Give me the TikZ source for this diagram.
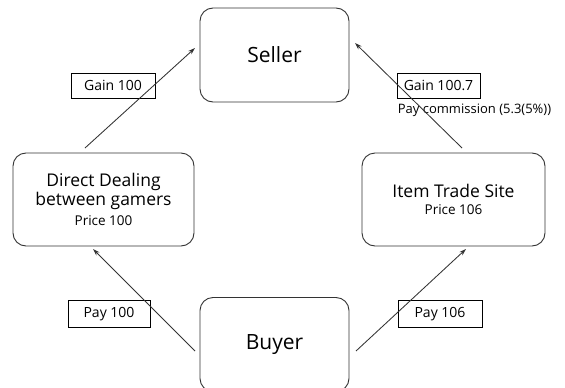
\documentclass[tikz,border=0pt]{standalone}
\usepackage{fontspec}
\setmainfont{Open Sans}
\usetikzlibrary{arrows.meta}
\begin{document}
\begin{tikzpicture}[x=1pt,y=-1pt,
  bigbox/.style={draw=black!80, line width=0.9pt, rounded corners=13pt, minimum height=94pt, align=center, inner sep=0pt},
  lbl/.style={draw=black, line width=0.8pt, rectangle, inner sep=0pt, minimum height=25pt, font=\fontsize{14}{16}\selectfont},
  flow/.style={-{Stealth[length=7pt,width=4.5pt]}, draw=black!80, line width=0.85pt},
  bigtxt/.style={font=\fontsize{21}{24}\selectfont}]
\useasboundingbox[fill=white] (0,0) rectangle (565,388);
% main boxes
\node[bigbox, bigtxt, minimum width=149pt] (seller) at (274.5,55) {Seller};
\node[bigbox, minimum width=181pt, minimum height=93pt] (dd) at (103.5,199.5)
  {\fontsize{17.5}{18}\selectfont Direct Dealing\\ \fontsize{17.5}{18}\selectfont between gamers\\[5pt] \fontsize{13.5}{15}\selectfont Price 100};
\node[bigbox, minimum width=183pt, minimum height=93pt] (its) at (453.5,199.5)
  {\fontsize{17.5}{18}\selectfont Item Trade Site\\[5pt] \fontsize{13.5}{15}\selectfont Price 106};
\node[bigbox, bigtxt, minimum width=149pt] (buyer) at (274.5,344.5) {Buyer};
% labels
\node[lbl, minimum width=84pt] (g1) at (113,85.5) {Gain 100};
\node[lbl, minimum width=83pt] (g2) at (438.5,85.5) {Gain 100.7};
\node[font=\fontsize{13}{15}\selectfont, inner sep=0pt] (pc) at (474.5,110) {Pay commission (5.3(5\%))};
\node[lbl, minimum width=82pt, minimum height=27pt] (p1) at (109,314) {Pay 100};
\node[lbl, minimum width=84pt, minimum height=27pt] (p2) at (440,314) {Pay 106};
% connector ends
\coordinate (a1s) at (85,148);
\coordinate (a1e) at (195,48);
\coordinate (a2s) at (462,148);
\coordinate (a2e) at (355,43);
\coordinate (a3s) at (195,351);
\coordinate (a3e) at (93,249);
\coordinate (a4s) at (356,351);
\coordinate (a4e) at (466,249);
\draw[flow] (a1s) -- (a1e);
\draw[flow] (a2s) -- (a2e);
\draw[flow] (a3s) -- (a3e);
\draw[flow] (a4s) -- (a4e);
\end{tikzpicture}
\end{document}
